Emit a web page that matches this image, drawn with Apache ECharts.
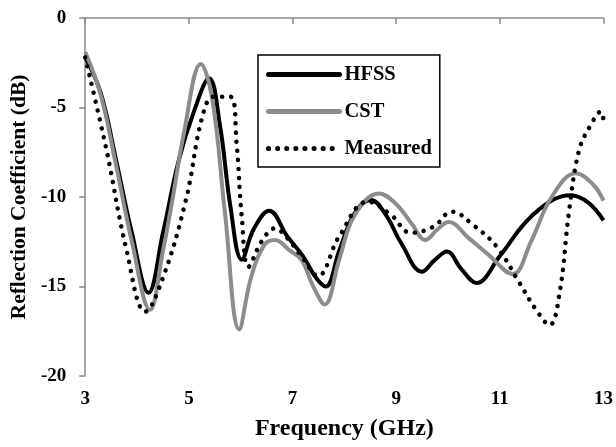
<!DOCTYPE html>
<html>
<head>
<meta charset="utf-8">
<script src="https://cdn.jsdelivr.net/npm/echarts@6/dist/echarts.min.js"></script>
<style>
  html, body { margin: 0; padding: 0; background: #fff; }
  #chart { width: 616px; height: 447px; }
</style>
</head>
<body>
<div id="chart"></div>
<script>
// values (frequency in GHz, reflection coefficient in dB)
const hfss = [
  [3.0, -2.2], [3.3, -4.2], [3.6, -8.0], [3.9, -12.0], [4.22, -15.35], [4.5, -12.0],
  [4.8, -8.0], [5.1, -5.2], [5.39, -3.37], [5.6, -6.0], [5.8, -10.5], [6.02, -13.5],
  [6.25, -11.8], [6.55, -10.77], [6.9, -12.2], [7.2, -13.3], [7.45, -14.5], [7.64, -15.0],
  [7.9, -13.0], [8.2, -10.9], [8.51, -10.17], [8.8, -11.0], [9.1, -12.6], [9.5, -14.17],
  [9.75, -13.5], [9.98, -13.05], [10.25, -14.0], [10.55, -14.8], [11.0, -13.3],
  [11.5, -11.4], [12.0, -10.2], [12.37, -9.9], [12.7, -10.3], [13.0, -11.3]
];
const cst = [
  [3.0, -1.9], [3.3, -4.3], [3.6, -8.3], [3.9, -12.5], [4.25, -16.3], [4.5, -13.0],
  [4.68, -10.2], [4.9, -6.5], [5.23, -2.57], [5.45, -4.5], [5.7, -11.0], [5.97, -17.4],
  [6.2, -14.5], [6.45, -12.7], [6.66, -12.4], [6.95, -13.0], [7.17, -13.5], [7.4, -15.0],
  [7.62, -16.0], [7.9, -13.5], [8.2, -11.0], [8.67, -9.8], [9.0, -10.4], [9.3, -11.5],
  [9.56, -12.4], [9.8, -11.8], [10.01, -11.4], [10.4, -12.3], [10.75, -13.15],
  [11.25, -14.3], [11.6, -12.5], [12.0, -10.0], [12.47, -8.68], [12.8, -9.3], [13.0, -10.2]
];
const measured = [
  [3.0, -2.2], [3.41, -7.37], [3.8, -13.0], [4.16, -16.4], [4.5, -14.5], [4.94, -10.2],
  [5.26, -5.5], [5.48, -4.4], [5.8, -4.4], [5.92, -7.0], [6.02, -11.1], [6.15, -13.9],
  [6.4, -12.5], [6.66, -11.75], [6.9, -12.3], [7.17, -13.3], [7.49, -14.4], [7.9, -12.2],
  [8.45, -10.26], [8.9, -11.0], [9.28, -12.0], [9.72, -11.66], [10.07, -10.82],
  [10.5, -11.6], [10.94, -12.78], [11.38, -14.8], [11.7, -16.3], [11.96, -17.15],
  [12.15, -15.4], [12.34, -10.7], [12.53, -7.37], [12.75, -6.0], [12.95, -5.23], [13.0, -5.7]
];
const seriesNames = ['HFSS', 'CST', 'Measured'];
const xTicks = [3, 5, 7, 9, 11, 13];
const yTicks = [-20, -15, -10, -5, 0];

const font = 'Liberation Serif, Times New Roman, serif';
const chart = echarts.init(document.getElementById('chart'));

const option = {
  animation: false,
  backgroundColor: '#fff',
  grid: { left: 82, right: 12, top: 18, bottom: 71 },
  legend: {
    data: seriesNames,
    orient: 'vertical',
    left: 258,
    top: 55,
    itemWidth: 71,
    itemHeight: 12,
    itemGap: 16,
    itemTextGap: 8,
    padding: [9, 8, 8, 8],
    borderColor: '#000',
    borderWidth: 1.5,
    backgroundColor: '#fff',
    itemStyle: { opacity: 0 },
    lineStyle: { width: 5, cap: 'round' },
    textStyle: { fontFamily: font, fontWeight: 'bold', fontSize: 20.5, color: '#000' }
  },
  xAxis: {
    type: 'value',
    min: xTicks[0],
    max: xTicks[xTicks.length - 1],
    interval: 2,
    name: 'Frequency (GHz)',
    nameLocation: 'middle',
    nameGap: 41,
    nameTextStyle: { fontFamily: font, fontWeight: 'bold', fontSize: 24, color: '#000' },
    axisLine: { lineStyle: { color: '#898989', width: 1.5 } },
    axisTick: { show: true, length: 6, lineStyle: { color: '#898989', width: 1.5 } },
    axisLabel: { fontFamily: font, fontWeight: 'bold', fontSize: 19, color: '#000', margin: 14 },
    splitLine: { show: false }
  },
  yAxis: {
    type: 'value',
    min: yTicks[0],
    max: yTicks[yTicks.length - 1],
    interval: 5,
    name: 'Reflection Coefficient (dB)',
    nameLocation: 'middle',
    nameGap: 53,
    nameTextStyle: { fontFamily: font, fontWeight: 'bold', fontSize: 21.5, color: '#000' },
    axisLine: { show: true, lineStyle: { color: '#898989', width: 1.5 } },
    axisTick: { show: true, length: 6, lineStyle: { color: '#898989', width: 1.5 } },
    axisLabel: { fontFamily: font, fontWeight: 'bold', fontSize: 19, color: '#000', margin: 19 },
    splitLine: { show: false }
  },
  series: [
    {
      name: seriesNames[0], type: 'line', data: hfss, smooth: 0.4,
      symbol: 'none', color: '#000',
      lineStyle: { color: '#000', width: 4 }
    },
    {
      name: seriesNames[1], type: 'line', data: cst, smooth: 0.4,
      symbol: 'none', color: '#8c8c8c',
      lineStyle: { color: '#8c8c8c', width: 4 }
    },
    {
      name: seriesNames[2], type: 'line', data: measured, smooth: 0.4,
      symbol: 'none', color: '#000',
      lineStyle: { color: '#000', width: 4.5, type: [0.1, 9], cap: 'round' }
    }
  ]
};

chart.setOption(option);
</script>
</body>
</html>
